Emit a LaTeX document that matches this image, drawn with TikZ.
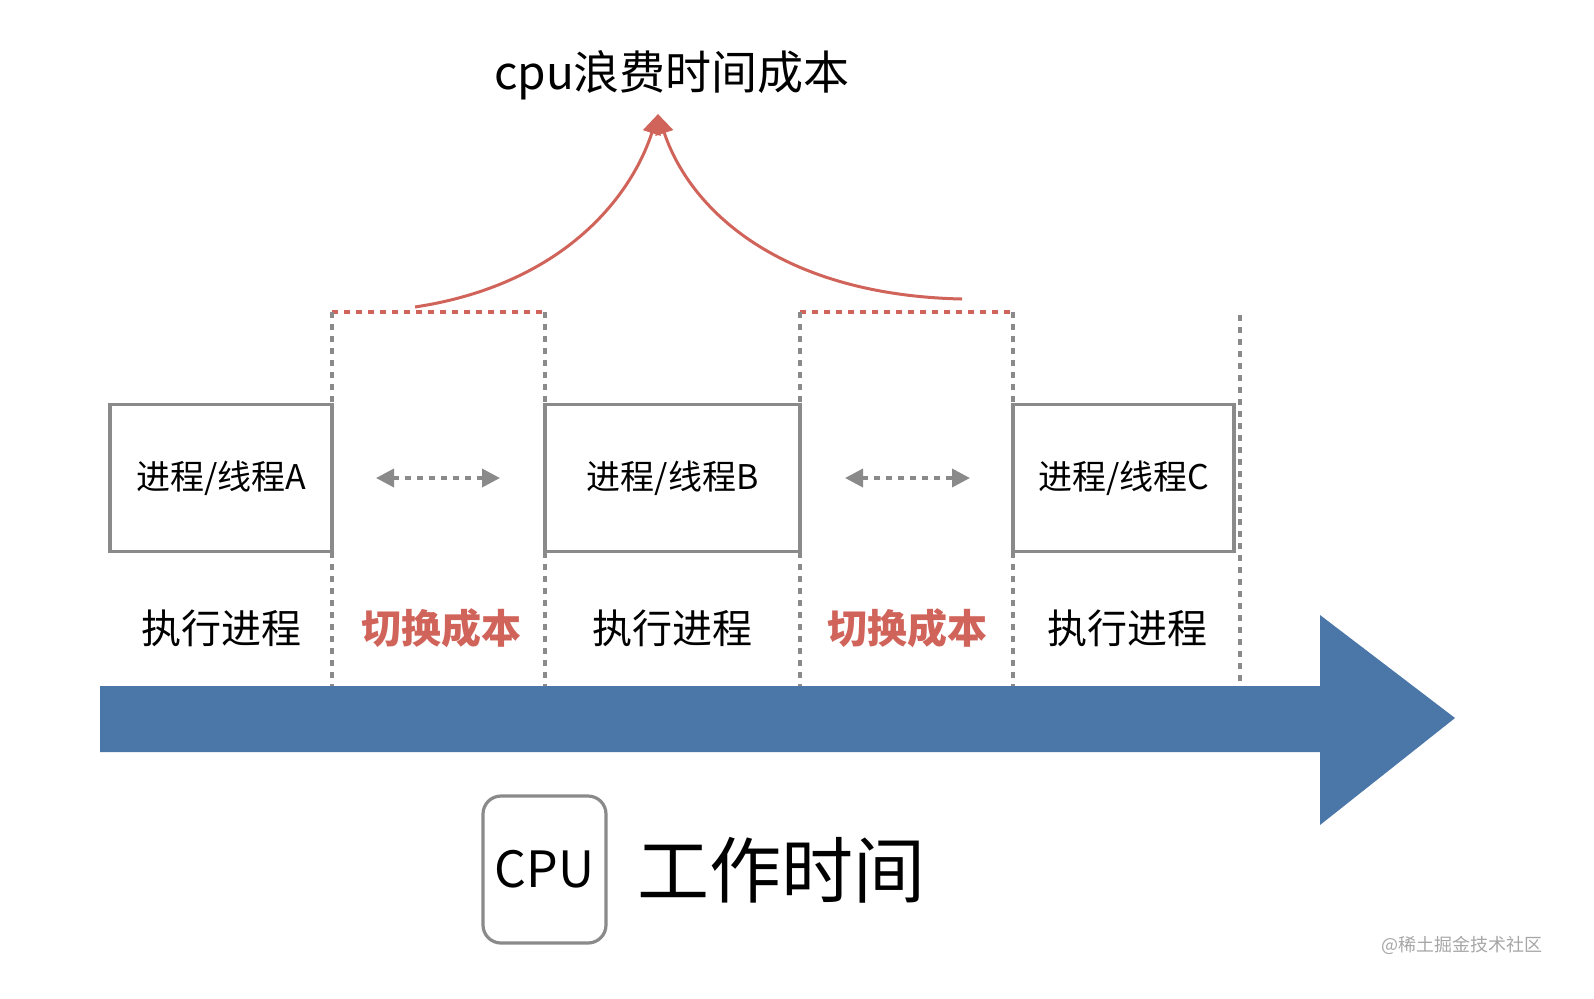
\documentclass[tikz,border=0pt]{standalone}
\usepackage{fontspec}
\setmainfont{Noto Sans CJK SC}
\usetikzlibrary{arrows.meta}
\definecolor{cred}{HTML}{D0645A}
\definecolor{cblue}{HTML}{4A76A8}
\definecolor{cgray}{HTML}{8A8A8A}
\tikzset{
  proc/.style={draw=cgray,line width=1.6pt,minimum width=#1*0.5pt,minimum height=73.5pt,font=\fontsize{17}{17}\selectfont},
  lbl/.style={font=\fontsize{20}{20}\selectfont},
  cost/.style={lbl,text=cred,font=\fontsize{20}{20}\selectfont\bfseries},
  sep/.style={cgray,line width=1.6pt,dash pattern=on 3pt off 3pt},
  swap/.style={cgray,line width=1.8pt,dash pattern=on 3pt off 3pt,{Triangle[length=9pt,width=9pt]}-{Triangle[length=9pt,width=9pt]}},
  wasted/.style={cred,line width=1.6pt,dash pattern=on 3pt off 3pt}
}
\begin{document}
\begin{tikzpicture}[x=0.5pt,y=-0.5pt]
  \useasboundingbox (0,0) rectangle (1594,998);
  % title and cost arrows
  \node[font=\fontsize{23}{23}\selectfont] (title) at (672,75) {cpu浪费时间成本};
  \coordinate (tip) at (658,114);
  \coordinate (s1) at (415,307);
  \coordinate (s2) at (962,299);
  \draw[cred,line width=1.5pt,-{Triangle[length=10pt,width=9pt]}] (s1) .. controls (560,285) and (630,200) .. (tip);
  \draw[cred,line width=1.5pt,-{Triangle[length=10pt,width=9pt]}] (s2) .. controls (780,295) and (690,210) .. (tip);
  % switch intervals
  \draw[wasted] (332,312) -- (545,312);
  \draw[wasted] (800,312) -- (1013,312);
  \foreach \x/\t in {332/312,545/312,800/312,1013/312,1240/315}
    \draw[sep] (\x,\t) -- (\x,688);
  % processes
  \node[proc=222] (pa) at (221,478) {进程/线程A};
  \node[proc=255] (pb) at (672.5,478) {进程/线程B};
  \node[proc=221] (pc) at (1123.5,478) {进程/线程C};
  \coordinate (a1) at (376,478); \coordinate (a2) at (500,478);
  \coordinate (b1) at (845,478); \coordinate (b2) at (970,478);
  \draw[swap] (a1) -- (a2);
  \draw[swap] (b1) -- (b2);
  % labels
  \node[lbl] (ra) at (221,628) {执行进程};
  \node[cost] (ca) at (441,628) {切换成本};
  \node[lbl] (rb) at (672,628) {执行进程};
  \node[cost] (cb) at (907,628) {切换成本};
  \node[lbl] (rc) at (1127,628) {执行进程};
  % time axis
  \fill[cblue] (100,686) -- (1320,686) -- (1320,615) -- (1455,718) -- (1320,825) -- (1320,752) -- (100,752) -- cycle;
  % cpu
  \node[draw=cgray,line width=1.6pt,rounded corners=9pt,minimum width=61.5pt,minimum height=73.5pt,font=\fontsize{25}{25}\selectfont] (cpu) at (544.5,869.5) {CPU};
  \node[font=\fontsize{36}{36}\selectfont,anchor=west] (work) at (630,870) {工作时间};
  \node[text=gray!70,font=\fontsize{9}{9}\selectfont] (wm) at (1462,945) {@稀土掘金技术社区};
\end{tikzpicture}
\end{document}
